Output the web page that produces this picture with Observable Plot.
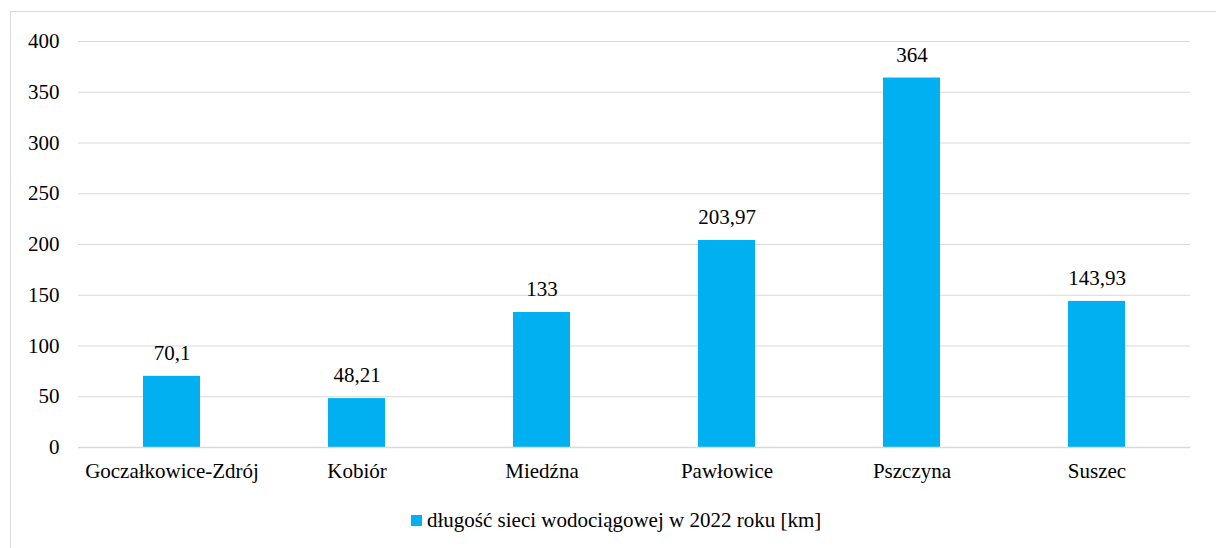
<!DOCTYPE html>
<html>
<head>
<meta charset="utf-8">
<script src="https://cdn.jsdelivr.net/npm/d3@7"></script>
<script src="https://cdn.jsdelivr.net/npm/@observablehq/plot@0.6"></script>
<style>
  html, body { margin: 0; padding: 0; background: #fff; }
  body { width: 1216px; height: 548px; position: relative; overflow: hidden; font-family: 'Liberation Serif', serif; }
  #frame { position: absolute; left: 10px; top: 11px; width: 1300px; height: 600px; border: 1px solid #d9d9d9; box-sizing: border-box; }
  #chart { position: absolute; left: 0; top: 0; }
  #chart svg text { font-family: 'Liberation Serif', serif !important; }
  #legend { position: absolute; left: 411px; top: 508px; display: flex; align-items: center; font-size: 21px; line-height: 24px; color: #000; }
  #legend .sw { width: 11px; height: 11px; background: #00b0f0; margin-right: 5px; margin-top: 1px; }
</style>
</head>
<body>
<div id="frame"></div>
<div id="chart"></div>
<div id="legend" style="font-family:'Liberation Serif'"><div class="sw"></div><span>długość sieci wodociągowej w 2022 roku [km]</span></div>
<script>
const categories = ["Goczałkowice-Zdrój", "Kobiór", "Miedźna", "Pawłowice", "Pszczyna", "Suszec"];
const values = [70.1, 48.21, 133, 203.97, 364, 143.93];
const yTicks = [0, 50, 100, 150, 200, 250, 300, 350, 400];

const data = categories.map((c, i) => ({category: c, value: values[i]}));
const fmt = v => String(v).replace(".", ",");
const FONT = "Liberation Serif";

const chart = Plot.plot({
  width: 1216,
  height: 490,
  marginLeft: 78,
  marginRight: 26,
  marginTop: 41,
  marginBottom: 43,
  style: {fontFamily: FONT, fontSize: "21px", color: "#000", background: "transparent", overflow: "visible"},
  x: {domain: categories, paddingInner: 0.69, paddingOuter: 0.345, label: null},
  y: {domain: [0, 400], ticks: yTicks, label: null},
  marks: [
    Plot.gridY(yTicks, {stroke: "#d9d9d9", strokeOpacity: 1, strokeWidth: 1.2}),
    Plot.barY(data, {x: "category", y: "value", fill: "#00b0f0"}),
    Plot.ruleY([0], {stroke: "#d9d9d9", strokeWidth: 1.5}),
    Plot.axisY(yTicks, {tickSize: 0, tickPadding: 19, label: null, fontSize: 21, fontFamily: FONT, fill: "#000"}),
    Plot.axisX({tickSize: 0, tickPadding: 16, label: null, fontSize: 21, fontFamily: FONT, fill: "#000"}),
    Plot.text(data, {x: "category", y: "value", text: d => fmt(d.value), dy: -23, fontSize: 21, fontFamily: FONT, fill: "#000"})
  ]
});
chart.querySelectorAll("text").forEach(t => t.setAttribute("font-family", FONT));
document.getElementById("chart").appendChild(chart);
</script>
</body>
</html>
